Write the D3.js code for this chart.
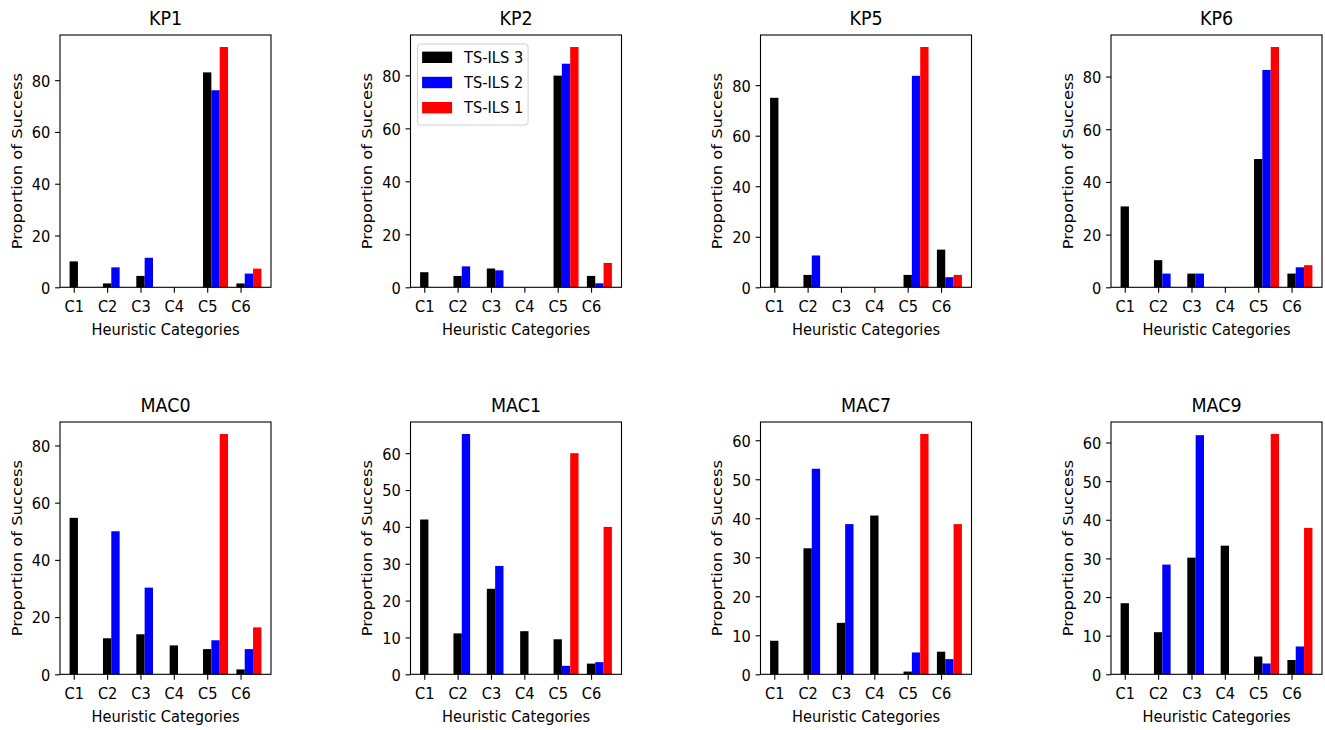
<!DOCTYPE html>
<html>
<head>
<meta charset="utf-8">
<script src="https://cdn.jsdelivr.net/npm/d3@7"></script>
<style>
body { margin: 0; background: #fff; }
svg { display: block; font-family: "DejaVu Sans", sans-serif; }
</style>
</head>
<body>
<div class="chart"></div>
<script>
var categories = ["C1", "C2", "C3", "C4", "C5", "C6"];
var seriesNames = ["TS-ILS 3", "TS-ILS 2", "TS-ILS 1"];
var panelTitles = ["KP1", "KP2", "KP5", "KP6", "MAC0", "MAC1", "MAC7", "MAC9"];

// one row per panel, same order as panelTitles
var ts3Values = [
  [10, 1.5, 4.4, 0, 83, 1.5],
  [5.7, 4.3, 7.1, 0, 79.9, 4.3],
  [75, 4.9, 0, 0, 4.9, 14.9],
  [30.7, 10.3, 5.2, 0, 48.7, 5.2],
  [54.7, 12.6, 14, 10.1, 8.8, 1.7],
  [42, 11.1, 23.2, 11.7, 9.5, 2.9],
  [8.6, 32.3, 13.2, 40.7, 0.7, 5.8],
  [18.4, 10.9, 30.2, 33.3, 4.6, 3.7]
];
var ts2Values = [
  [0, 7.7, 11.4, 0, 76.1, 5.3],
  [0, 7.9, 6.4, 0, 84.4, 1.5],
  [0, 12.6, 0, 0, 83.7, 4.0],
  [0, 5.2, 5.2, 0, 82.5, 7.6],
  [0, 50, 30.3, 0, 11.9, 8.8],
  [0, 65.2, 29.4, 0, 2.3, 3.3],
  [0, 52.7, 38.5, 0, 5.6, 3.9],
  [0, 28.4, 61.9, 0, 2.8, 7.2]
];
var ts1Values = [
  [0, 0, 0, 0, 92.8, 7.2],
  [0, 0, 0, 0, 90.7, 9.2],
  [0, 0, 0, 0, 95.1, 4.9],
  [0, 0, 0, 0, 91.2, 8.4],
  [0, 0, 0, 0, 84, 16.4],
  [0, 0, 0, 0, 60, 40],
  [0, 0, 0, 0, 61.6, 38.5],
  [0, 0, 0, 0, 62.2, 37.9]
];

function init() {
  var w = 1325;
  var h = 730;
  var aw = 211;     // axes width
  var ah = 252.3;   // axes height
  var lefts = [60, 410.5, 760.5, 1111];
  var tops = [35, 422];
  var sy = 1.12;    // the picture is a bit stretched vertically
  var fs = 14.6;
  var barW = 0.25;
  var colors = d3.scaleOrdinal().domain(seriesNames).range(["#000000", "#0000ff", "#ff0000"]);

  var svg = d3.select(".chart")
    .append("svg")
    .attr("width", w)
    .attr("height", h);

  panelTitles.forEach(function(title, idx) {
    var col = idx % 4;
    var row = Math.floor(idx / 4);
    var g = svg.append("g")
      .attr("transform", "translate(" + lefts[col] + "," + tops[row] + ")");

    var series = [ts3Values[idx], ts2Values[idx], ts1Values[idx]];
    var ymax = d3.max(series, function(s) { return d3.max(s); }) * 1.05;

    var xScale = d3.scaleLinear()
      .domain([-0.4125, 5.9125])
      .range([0, aw]);
    var yScale = d3.scaleLinear()
      .domain([0, ymax])
      .range([ah, 0]);

    series.forEach(function(vals, k) {
      g.append("g").selectAll("rect")
        .data(vals)
        .enter()
        .append("rect")
        .attr("x", function(d, i) { return xScale(i + k * barW - barW / 2); })
        .attr("y", function(d) { return yScale(d); })
        .attr("width", xScale(barW) - xScale(0))
        .attr("height", function(d) { return ah - yScale(d); })
        .style("fill", colors(seriesNames[k]));
    });

    // y axis
    var yAxis = g.append("g")
      .call(d3.axisLeft(yScale).ticks(5).tickSize(4.9).tickSizeOuter(0).tickPadding(4.9))
      .attr("font-size", fs)
      .attr("font-family", "DejaVu Sans");
    yAxis.select(".domain").remove();
    yAxis.selectAll("line").attr("stroke", "#000").attr("stroke-width", 1.1);
    yAxis.selectAll("text")
      .attr("fill", "#000")
      .attr("dy", "0.36em")
      .attr("transform", "scale(1," + sy + ")");

    // x axis
    var xAxis = g.append("g")
      .attr("transform", "translate(0," + ah + ")")
      .call(d3.axisBottom(xScale)
        .tickValues(d3.range(categories.length))
        .tickFormat(function(d) { return categories[d]; })
        .tickSize(5.5).tickSizeOuter(0))
      .attr("font-size", fs)
      .attr("font-family", "DejaVu Sans");
    xAxis.select(".domain").remove();
    xAxis.selectAll("line").attr("stroke", "#000").attr("stroke-width", 1.1);
    xAxis.selectAll("text")
      .attr("fill", "#000")
      .attr("y", 25 / sy)
      .attr("dy", 0)
      .attr("transform", "scale(1," + sy + ")");

    // frame
    g.append("rect")
      .attr("x", 0)
      .attr("y", 0)
      .attr("width", aw)
      .attr("height", ah)
      .attr("fill", "none")
      .attr("stroke", "#000")
      .attr("stroke-width", 1.1);

    g.append("text")
      .attr("transform", "translate(" + aw / 2 + ",-10) scale(1," + sy + ")")
      .attr("text-anchor", "middle")
      .attr("font-size", 17.5)
      .text(title);

    g.append("text")
      .attr("transform", "translate(" + aw / 2 + "," + (ah + 48) + ") scale(1," + sy + ")")
      .attr("text-anchor", "middle")
      .attr("font-size", fs)
      .text("Heuristic Categories");

    g.append("text")
      .attr("transform", "translate(-43," + ah / 2 + ") rotate(-90) scale(" + sy + ",1)")
      .attr("text-anchor", "middle")
      .attr("dominant-baseline", "central")
      .attr("font-size", fs)
      .text("Proportion of Success");

    if (idx === 1) {
      var legend = g.append("g")
        .attr("class", "legend")
        .attr("transform", "translate(7,9)");

      legend.append("rect")
        .attr("width", 110.6)
        .attr("height", 81)
        .attr("rx", 3)
        .attr("fill", "#fff")
        .attr("fill-opacity", 0.8)
        .attr("stroke", "#d0d0d0")
        .attr("stroke-width", 1);

      var legendItem = legend.selectAll(".legend-item")
        .data(seriesNames)
        .enter().append("g")
        .attr("class", "legend-item")
        .attr("transform", function(d, i) {
          return "translate(0," + (13.3 + i * 25.2) + ")";
        });

      legendItem.append("rect")
        .attr("x", 4.6)
        .attr("y", -5.7)
        .attr("width", 30)
        .attr("height", 11.4)
        .style("fill", function(d) { return colors(d); });

      legendItem.append("text")
        .attr("transform", "translate(46.6,0) scale(1," + sy + ")")
        .attr("dominant-baseline", "central")
        .attr("font-size", fs)
        .text(function(d) { return d; });
    }
  });
}

window.onload = init;
</script>
</body>
</html>
